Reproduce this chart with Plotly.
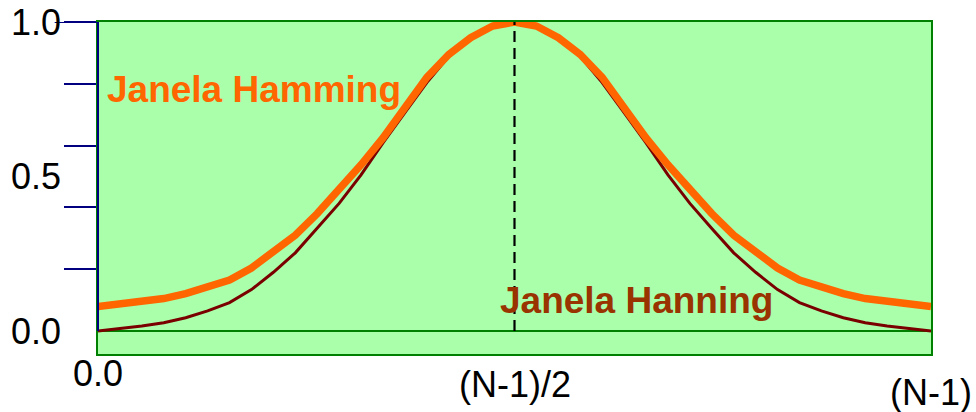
import plotly.graph_objects as go

# Sample index n = 0 .. N-1 (N = 39 samples)
n_index = list(range(39))

# Window amplitudes (left half, mirrored for the right half)
hamming_half = [0.079, 0.086, 0.095, 0.105, 0.121, 0.141, 0.165, 0.204, 0.255, 0.310,
                0.380, 0.457, 0.538, 0.625, 0.723, 0.821, 0.895, 0.949, 0.987, 1.000]
hanning_half = [0.000, 0.008, 0.016, 0.027, 0.043, 0.065, 0.092, 0.134, 0.190, 0.253,
                0.332, 0.413, 0.505, 0.609, 0.707, 0.804, 0.888, 0.946, 0.984, 1.000]
hamming = hamming_half + hamming_half[-2::-1]
hanning = hanning_half + hanning_half[-2::-1]

centre = n_index[-1] / 2
last = n_index[-1]

y_minor_ticks = [0.2, 0.4, 0.6, 0.8, 1.0]
y_tick_labels = {0.0: "0.0", 0.5: "0.5", 1.0: "1.0"}
x_tick_labels = [(0, "0.0", 19), (centre, "(N-1)/2", 30), (last, "(N-1)", 38)]

FONT = "Arial, 'Liberation Sans', sans-serif"
ORANGE = "#FF6600"
DARKRED = "#7A0000"
GREEN = "#008000"
FILL = "#AAFFAA"
NAVY = "#000080"

fig = go.Figure()

fig.add_trace(go.Scatter(x=n_index, y=hanning, mode="lines",
                         line=dict(color=DARKRED, width=3), cliponaxis=False,
                         hoverinfo="skip"))
fig.add_trace(go.Scatter(x=n_index, y=hamming, mode="lines",
                         line=dict(color=ORANGE, width=7.5), cliponaxis=False,
                         hoverinfo="skip"))
# dashed centre marker at (N-1)/2
fig.add_trace(go.Scatter(x=[centre, centre], y=[0, 1], mode="lines",
                         line=dict(color="black", width=2.2, dash="11px,6px"),
                         hoverinfo="skip"))

# blue axis line on the left from 0 to 1, with the longer top tick
fig.add_shape(type="line", xref="paper", yref="y", x0=0, x1=0, y0=0, y1=1,
              line=dict(color=NAVY, width=2), layer="above")
fig.add_shape(type="line", xref="paper", yref="y", x0=-0.052, x1=0, y0=1, y1=1,
              line=dict(color=NAVY, width=2), layer="above")

annotations = []
for val, txt in y_tick_labels.items():
    annotations.append(dict(xref="paper", yref="y", x=0, y=val, xshift=-35,
                            xanchor="right", yanchor="middle", text=txt,
                            showarrow=False, font=dict(family=FONT, size=36, color="black")))
for xv, txt, off in x_tick_labels:
    annotations.append(dict(xref="x", yref="paper", x=xv, y=0, yshift=-off,
                            xanchor="center", yanchor="middle", text=txt,
                            showarrow=False, font=dict(family=FONT, size=36, color="black")))
annotations.append(dict(xref="paper", yref="y", x=0.0085, y=0.782, xanchor="left",
                        yanchor="middle", text="<b>Janela Hamming</b>", showarrow=False,
                        font=dict(family=FONT, size=37, color=ORANGE)))
annotations.append(dict(xref="paper", yref="y", x=0.4805, y=0.10, xanchor="left",
                        yanchor="middle", text="<b>Janela Hanning</b>", showarrow=False,
                        font=dict(family=FONT, size=37, color="#993300")))

fig.update_layout(
    width=976, height=412,
    margin=dict(l=98, r=45, t=22, b=58),
    paper_bgcolor="white", plot_bgcolor=FILL,
    showlegend=False,
    annotations=annotations,
    xaxis=dict(range=[0, last], showgrid=False, zeroline=False, showticklabels=False,
               ticks="", showline=True, mirror=True, linecolor=GREEN, linewidth=2),
    yaxis=dict(range=[-0.0744, 1.0], showgrid=False, zeroline=True,
               zerolinecolor=GREEN, zerolinewidth=2, showticklabels=False,
               tickvals=y_minor_ticks, ticks="outside", ticklen=32, tickwidth=2,
               tickcolor=NAVY, showline=True, mirror=True, linecolor=GREEN, linewidth=2),
)

fig.write_html("out.html")
